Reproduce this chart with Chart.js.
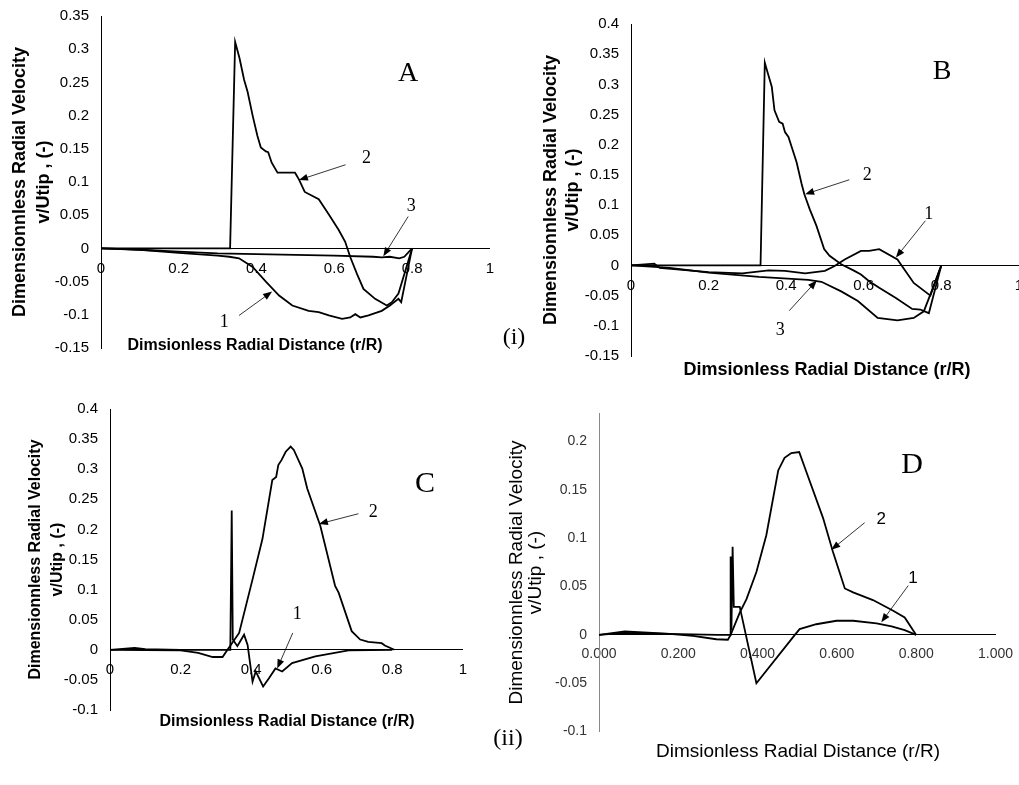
<!DOCTYPE html>
<html>
<head>
<meta charset="utf-8">
<script src="https://cdn.jsdelivr.net/npm/chart.js@4.4.1/dist/chart.umd.min.js"></script>
<style>
  body { margin: 0; background: #fff; overflow: hidden; }
  #wrap { position: relative; width: 1019px; height: 785px; overflow: hidden; }
  canvas { position: absolute; }
  .txt { position: absolute; transform: translate(-50%, -50%); white-space: nowrap; line-height: 1; color: #000; }
  .xt { font-family: 'Liberation Sans', Arial, sans-serif; font-weight: bold; }
  .serif { font-family: 'Liberation Serif', 'Times New Roman', serif; }
</style>
</head>
<body>
<div id="wrap">
  <canvas id="chA" width="505" height="374" style="left:0px;top:-5px"></canvas>
  <canvas id="chB" width="524" height="374" style="left:510px;top:3px"></canvas>
  <canvas id="chC" width="478" height="343" style="left:0px;top:388px"></canvas>
  <canvas id="chD" width="524" height="359" style="left:500px;top:393px"></canvas>

  <div class="txt serif" style="left:408px;top:72px;font-size:28px">A</div>
  <div class="txt serif" style="left:942px;top:70px;font-size:28px">B</div>
  <div class="txt serif" style="left:425px;top:482px;font-size:30px">C</div>
  <div class="txt serif" style="left:912px;top:463px;font-size:30px">D</div>
  <div class="txt serif" style="left:514px;top:336px;font-size:24px">(i)</div>
  <div class="txt serif" style="left:508px;top:737px;font-size:24px">(ii)</div>

  <div class="txt xt" style="left:255px;top:345px;font-size:16px">Dimsionless Radial Distance (r/R)</div>
  <div class="txt xt" style="left:827px;top:369px;font-size:18px">Dimsionless Radial Distance (r/R)</div>
  <div class="txt xt" style="left:287px;top:721px;font-size:16px">Dimsionless Radial Distance (r/R)</div>
  <div class="txt xt" style="left:798px;top:750px;font-size:19px;font-weight:normal">Dimsionless Radial Distance (r/R)</div>
</div>
<script>
// ---- data (r/R, v/Utip) ----
// panel A
var rA1 = [0, 0.06, 0.1, 0.2, 0.3, 0.33, 0.355, 0.39, 0.424, 0.458, 0.492, 0.534, 0.56, 0.586, 0.62, 0.641, 0.654, 0.667, 0.688, 0.722, 0.743, 0.765, 0.772, 0.8];
var vA1 = [0, -0.001, -0.002, -0.0066, -0.011, -0.0126, -0.015, -0.028, -0.05, -0.071, -0.086, -0.094, -0.096, -0.101, -0.106, -0.104, -0.099, -0.104, -0.101, -0.094, -0.086, -0.076, -0.081, 0];
var rA2 = [0, 0.1, 0.2, 0.332, 0.345, 0.356, 0.368, 0.377, 0.39, 0.402, 0.411, 0.424, 0.43, 0.439, 0.454, 0.499, 0.509, 0.524, 0.56, 0.586, 0.611, 0.628, 0.641, 0.658, 0.675, 0.705, 0.735, 0.748, 0.765, 0.8];
var vA2 = [0, 0, 0, 0, 0.311, 0.287, 0.254, 0.236, 0.2, 0.17, 0.152, 0.146, 0.145, 0.129, 0.114, 0.114, 0.104, 0.085, 0.074, 0.051, 0.028, 0.01, -0.013, -0.038, -0.061, -0.076, -0.086, -0.081, -0.068, 0];
var rA3 = [0, 0.1, 0.2, 0.3, 0.4, 0.5, 0.6, 0.7, 0.722, 0.743, 0.767, 0.78, 0.8];
var vA3 = [0, -0.002, -0.005, -0.0075, -0.0086, -0.0098, -0.011, -0.0126, -0.0136, -0.0126, -0.015, -0.0126, 0];

// panel B
var rB1 = [0, 0.06, 0.074, 0.2, 0.287, 0.355, 0.397, 0.449, 0.5, 0.525, 0.551, 0.593, 0.614, 0.64, 0.687, 0.729, 0.772, 0.8];
var vB1 = [0, 0.003, -0.004, -0.011, -0.013, -0.008, -0.009, -0.013, -0.009, -0.001, 0.01, 0.024, 0.024, 0.027, 0.01, -0.029, -0.05, 0];
var rB2 = [0, 0.1, 0.2, 0.3, 0.334, 0.345, 0.353, 0.363, 0.37, 0.382, 0.391, 0.397, 0.406, 0.416, 0.427, 0.44, 0.447, 0.461, 0.478, 0.498, 0.512, 0.542, 0.576, 0.593, 0.614, 0.64, 0.683, 0.725, 0.746, 0.768, 0.8];
var vB2 = [0, 0, 0, 0, 0, 0.336, 0.318, 0.296, 0.257, 0.238, 0.235, 0.221, 0.213, 0.193, 0.171, 0.135, 0.118, 0.093, 0.066, 0.027, 0.016, 0.002, -0.009, -0.015, -0.026, -0.037, -0.054, -0.072, -0.073, -0.079, 0];
var rB3 = [0, 0.1, 0.2, 0.33, 0.457, 0.491, 0.542, 0.585, 0.636, 0.687, 0.729, 0.755, 0.772, 0.8];
var vB3 = [0, -0.004, -0.012, -0.019, -0.024, -0.027, -0.043, -0.059, -0.087, -0.091, -0.087, -0.076, -0.048, 0];

// panel C
var rC1 = [0, 0.07, 0.1, 0.2, 0.3, 0.341, 0.345, 0.348, 0.361, 0.38, 0.39, 0.404, 0.413, 0.434, 0.451, 0.469, 0.488, 0.516, 0.582, 0.676, 0.8];
var vC1 = [0, 0.003, 0.001, 0, 0, 0, 0.2315, 0.017, 0.006, 0.025, 0.008, -0.053, -0.036, -0.061, -0.047, -0.031, -0.036, -0.022, -0.011, -0.001, 0];
var rC2 = [0, 0.2, 0.25, 0.291, 0.319, 0.333, 0.366, 0.404, 0.432, 0.46, 0.471, 0.477, 0.486, 0.498, 0.512, 0.521, 0.545, 0.559, 0.596, 0.638, 0.648, 0.685, 0.709, 0.732, 0.77, 0.779, 0.806];
var vC2 = [0, -0.001, -0.005, -0.012, -0.012, 0, 0.028, 0.117, 0.184, 0.282, 0.287, 0.307, 0.315, 0.329, 0.3375, 0.332, 0.301, 0.268, 0.206, 0.106, 0.095, 0.031, 0.017, 0.013, 0.011, 0.007, 0];

// panel D
var rD1 = [0, 0.065, 0.17, 0.3, 0.331, 0.332, 0.334, 0.337, 0.34, 0.355, 0.397, 0.494, 0.506, 0.548, 0.599, 0.641, 0.7, 0.738, 0.771, 0.8];
var vD1 = [0, 0.002, 0.001, 0, 0, 0.081, 0.005, 0.091, 0.029, 0.029, -0.05, 0, 0.006, 0.011, 0.0146, 0.0146, 0.012, 0.0087, 0.005, 0];
var rD2 = [0, 0.065, 0.17, 0.237, 0.296, 0.325, 0.332, 0.355, 0.372, 0.397, 0.422, 0.452, 0.468, 0.485, 0.505, 0.519, 0.565, 0.59, 0.62, 0.641, 0.691, 0.742, 0.771, 0.8];
var vD2 = [0, 0.0035, 0.0014, -0.001, -0.0045, -0.005, 0, 0.023, 0.037, 0.065, 0.103, 0.17, 0.183, 0.188, 0.189, 0.173, 0.121, 0.086, 0.048, 0.044, 0.036, 0.025, 0.018, 0];

var xTicks = [0, 0.2, 0.4, 0.6, 0.8, 1];

var SANS = "'Liberation Sans', Arial, sans-serif";
var SERIF = "'Liberation Serif', 'Times New Roman', serif";

function pts(r, v){
  var out = [];
  for (var i = 0; i < r.length; i++) out.push({x: r[i], y: v[i]});
  return out;
}

function series(r, v){
  return { data: pts(r, v), borderColor: '#000', borderWidth: 1.8, pointRadius: 0, fill: false, tension: 0 };
}

// numbers + little arrows, placed in data units
var notesPlugin = {
  id: 'notes',
  afterDatasetsDraw: function(chart, args, opts){
    var ctx = chart.ctx, sx = chart.scales.x, sy = chart.scales.y;
    ctx.save();
    ctx.fillStyle = '#000';
    ctx.strokeStyle = '#000';
    ctx.lineWidth = 0.8;
    (opts.items || []).forEach(function(n){
      var x1 = sx.getPixelForValue(n.from[0]), y1 = sy.getPixelForValue(n.from[1]);
      var x2 = sx.getPixelForValue(n.to[0]), y2 = sy.getPixelForValue(n.to[1]);
      var a = Math.atan2(y2 - y1, x2 - x1);
      ctx.beginPath(); ctx.moveTo(x1, y1); ctx.lineTo(x2 - 6 * Math.cos(a), y2 - 6 * Math.sin(a)); ctx.stroke();
      ctx.beginPath();
      ctx.moveTo(x2, y2);
      ctx.lineTo(x2 - 9 * Math.cos(a) + 3.5 * Math.sin(a), y2 - 9 * Math.sin(a) - 3.5 * Math.cos(a));
      ctx.lineTo(x2 - 9 * Math.cos(a) - 3.5 * Math.sin(a), y2 - 9 * Math.sin(a) + 3.5 * Math.cos(a));
      ctx.closePath(); ctx.fill();
      ctx.font = opts.font;
      ctx.textAlign = 'center';
      ctx.textBaseline = 'middle';
      ctx.fillText(n.t, sx.getPixelForValue(n.at[0]), sy.getPixelForValue(n.at[1]));
    });
    ctx.restore();
  }
};

function fmt(v){ return String(+(+v).toFixed(3)); }

function makeChart(id, cfg){
  var ctx = document.getElementById(id);
  return new Chart(ctx, {
    type: 'line',
    data: { datasets: cfg.sets },
    options: {
      responsive: false,
      animation: false,
      devicePixelRatio: 1,
      layout: { padding: { left: 0, top: 10, right: cfg.padR, bottom: 10 } },
      plugins: { legend: { display: false }, tooltip: { enabled: false }, notes: { items: cfg.notes, font: cfg.noteFont } },
      scales: {
        x: {
          type: 'linear', position: { y: 0 }, min: 0, max: 1,
          afterBuildTicks: function(s){ s.ticks = xTicks.map(function(t){ return {value: t}; }); },
          ticks: { padding: 11, maxRotation: 0, autoSkip: false, color: cfg.tickColor, font: { family: SANS, size: cfg.tickSize }, callback: cfg.xFmt },
          grid: { display: false, drawTicks: false },
          border: { display: true, color: '#000', width: 1 }
        },
        y: {
          type: 'linear', position: 'left', min: cfg.yMin, max: cfg.yMax,
          ticks: { stepSize: 0.05, includeBounds: false, padding: 12, color: cfg.tickColor, font: { family: SANS, size: cfg.tickSize }, callback: function(v){ return fmt(v); } },
          grid: { display: false, drawTicks: false },
          border: { display: true, color: cfg.yAxisColor, width: 1 },
          title: {
            display: true, color: '#000',
            text: ['Dimensionnless Radial Velocity', 'v/Utip , (-)'],
            font: { family: SANS, size: cfg.ytSize, weight: cfg.ytWeight, lineHeight: cfg.ytLine + 'px' },
            padding: { top: cfg.ytPad, bottom: 0 }
          },
          afterFit: function(s){ s.width = cfg.yWidth; }
        }
      }
    },
    plugins: [notesPlugin]
  });
}

makeChart('chA', {
  sets: [series(rA1, vA1), series(rA2, vA2), series(rA3, vA3)],
  yMin: -0.15, yMax: 0.35, yWidth: 101, padR: 10, tickSize: 15,
  ytSize: 18, ytWeight: 'bold', ytLine: 24, ytPad: 8,
  tickColor: '#000', yAxisColor: '#000', xFmt: function(v){ return fmt(v); },
  noteFont: '18px ' + SERIF,
  notes: [
    { t: '2', at: [0.683, 0.136], from: [0.629, 0.126], to: [0.509, 0.103] },
    { t: '3', at: [0.798, 0.064], from: [0.79, 0.048], to: [0.726, -0.012] },
    { t: '1', at: [0.317, -0.111], from: [0.355, -0.101], to: [0.44, -0.065] }
  ]
});

makeChart('chB', {
  sets: [series(rB1, vB1), series(rB2, vB2), series(rB3, vB3)],
  yMin: -0.15, yMax: 0.4, yWidth: 121, padR: 10, tickSize: 15,
  ytSize: 18, ytWeight: 'bold', ytLine: 22, ytPad: 30,
  tickColor: '#000', yAxisColor: '#000', xFmt: function(v){ return fmt(v); },
  noteFont: '18px ' + SERIF,
  notes: [
    { t: '2', at: [0.609, 0.149], from: [0.563, 0.142], to: [0.449, 0.118] },
    { t: '1', at: [0.768, 0.085], from: [0.759, 0.074], to: [0.683, 0.013] },
    { t: '3', at: [0.385, -0.107], from: [0.408, -0.075], to: [0.479, -0.025] }
  ]
});

makeChart('chC', {
  sets: [series(rC1, vC1), series(rC2, vC2)],
  yMin: -0.1, yMax: 0.4, yWidth: 110, padR: 10, tickSize: 15,
  ytSize: 16, ytWeight: 'bold', ytLine: 22, ytPad: 25,
  tickColor: '#000', yAxisColor: '#000', xFmt: function(v){ return fmt(v); },
  noteFont: '18px ' + SERIF,
  notes: [
    { t: '2', at: [0.746, 0.229], from: [0.704, 0.226], to: [0.592, 0.209] },
    { t: '1', at: [0.531, 0.059], from: [0.518, 0.028], to: [0.474, -0.031] }
  ]
});

makeChart('chD', {
  sets: [series(rD1, vD1), series(rD2, vD2)],
  yMin: -0.1, yMax: 0.229, yWidth: 99, padR: 25, tickSize: 14,
  ytSize: 19, ytWeight: 'normal', ytLine: 19, ytPad: 7,
  tickColor: '#333', yAxisColor: '#888', xFmt: function(v){ return (+v).toFixed(3); },
  noteFont: '17px ' + SANS,
  notes: [
    { t: '2', at: [0.712, 0.119], from: [0.67, 0.116], to: [0.586, 0.088] },
    { t: '1', at: [0.792, 0.058], from: [0.78, 0.051], to: [0.712, 0.013] }
  ]
});
</script>
</body>
</html>
